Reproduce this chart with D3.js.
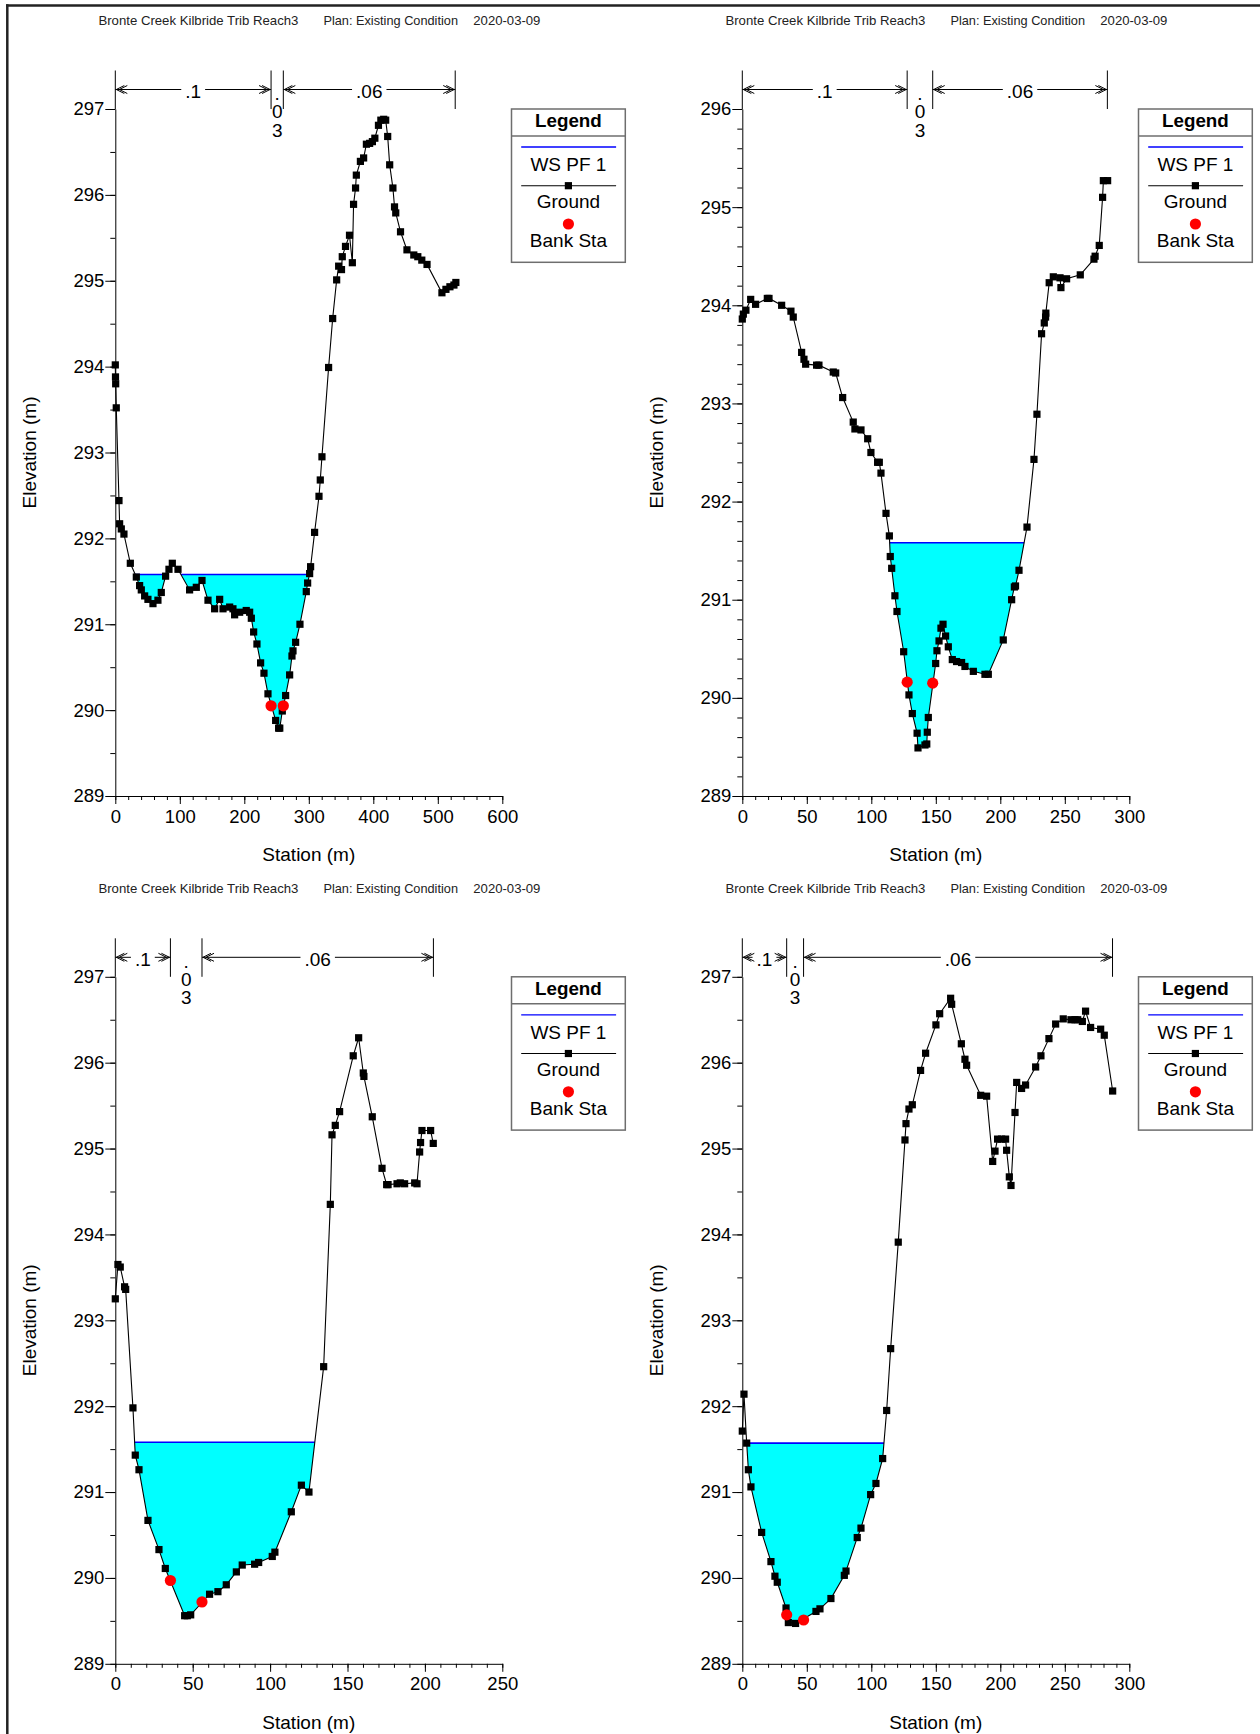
<!DOCTYPE html>
<html><head><meta charset="utf-8">
<script src="https://cdn.jsdelivr.net/npm/d3@7"></script>
<style>html,body{margin:0;padding:0;background:#fff;} svg{display:block;}</style>
</head><body><svg id="chart" width="1260" height="1734"></svg>
<script>
// ---------------- DATA ----------------
const headerTitle = "Bronte Creek Kilbride Trib Reach3";
const headerPlan = "Plan: Existing Condition";
const headerDate = "2020-03-09";
const legendTitle = "Legend";
const legendLabels = ["WS PF 1", "Ground", "Bank Sta"];
const xAxisTitle = "Station (m)";
const yAxisTitle = "Elevation (m)";
const nValues = [".1", ".03", ".06"];
const wsElev = [291.58, 291.58, 291.58, 291.57];

const station1 = [0,0.3,0.6,1.5,5.7,6.7,9.3,13.4,23.3,32.6,37.7,40.3,45.5,50.6,58.4,66.1,71.3,78,83.2,88.4,97.2,115.2,125.6,134.4,143.7,154,161.8,167,177.3,182.4,185,192.8,203,208.3,210.9,214.5,219.6,225.3,230.5,236.7,248.6,253.2,255,258.9,264.1,270.3,273.9,275.5,279.6,286.3,296.1,298.2,301.3,302.8,309,315.8,317.8,320.4,330.7,337,343.2,346.3,350.7,351.9,356.9,363.1,367.5,369.4,372.5,373.7,380,385,389.3,394.3,398.6,402.4,408,411.7,416.1,419.2,422.3,425.4,430.4,432.9,434.8,442.2,452.2,462.8,469,475.2,483.3,506.4,512.6,518.8,525,528];
const elev1 = [294.02,293.88,293.80,293.52,292.44,292.17,292.11,292.05,291.71,291.55,291.45,291.40,291.33,291.29,291.24,291.28,291.37,291.56,291.64,291.71,291.64,291.40,291.43,291.51,291.28,291.18,291.29,291.18,291.20,291.18,291.11,291.14,291.16,291.14,291.07,290.91,290.77,290.55,290.43,290.19,289.88,289.79,289.79,289.99,290.17,290.41,290.63,290.69,290.79,291.00,291.38,291.48,291.59,291.67,292.07,292.49,292.68,292.95,293.99,294.56,295.01,295.17,295.13,295.28,295.40,295.53,295.21,295.89,296.08,296.23,296.39,296.43,296.59,296.60,296.62,296.66,296.81,296.87,296.88,296.87,296.68,296.35,296.08,295.86,295.79,295.57,295.36,295.30,295.28,295.24,295.19,294.86,294.90,294.93,294.95,294.98];
const bankSta1 = [241.5, 260.5];
const bankElev1 = [290.05, 290.05];
const nBreaks1 = [0, 241.5, 260.5, 527];
const xTicks1 = [0, 100, 200, 300, 400, 500, 600];
const yTicks1 = [289, 290, 291, 292, 293, 294, 295, 296, 297];

const station2 = [0,0.8,2.8,6.5,10.3,19.4,20.7,30.5,37.7,39.5,46,47.8,49.1,57.6,59.4,70.5,72.4,77.8,86,87.3,92,97.2,99.7,104.9,106.2,107.5,111.4,114,114.7,115.8,118.3,119.9,125.1,129.2,131.8,135.5,136.2,141.6,143.0,143.4,144.2,149.9,150.9,152.5,154,155.6,157.6,159.7,162.8,166.1,170,172.6,179.1,188.1,190.7,202.3,208.8,210.9,211.8,214.5,220.7,226.1,228.4,232,234.1,235.1,235.3,237.9,241.1,246.3,247,251.4,262,272.6,273.5,276.7,279.3,279.9,283.2];
const elev2 = [293.86,293.91,293.95,294.06,294.01,294.07,294.07,294.00,293.94,293.88,293.52,293.45,293.40,293.39,293.39,293.32,293.31,293.06,292.81,292.74,292.73,292.64,292.50,292.40,292.40,292.29,291.88,291.65,291.44,291.32,291.04,290.88,290.47,290.03,289.84,289.64,289.49,289.52,289.53,289.65,289.80,290.35,290.48,290.58,290.71,290.75,290.63,290.52,290.39,290.37,290.36,290.32,290.27,290.24,290.24,290.59,291.00,291.13,291.14,291.30,291.74,292.43,292.89,293.71,293.82,293.88,293.92,294.23,294.29,294.28,294.18,294.27,294.31,294.47,294.50,294.61,295.10,295.27,295.27];
const bankSta2 = [127.8, 147.6];
const bankElev2 = [290.16, 290.15];
const nBreaks2 = [0, 127.8, 147.6, 283];
const xTicks2 = [0, 50, 100, 150, 200, 250, 300];
const yTicks2 = [289, 290, 291, 292, 293, 294, 295, 296];

const station3 = [0,1.7,3.2,6.0,6.7,11.4,12.9,15.3,21.1,28.2,32.3,44.8,46.5,48.7,60.9,66.3,71.7,78.2,82,90,92.6,101.4,103.1,113.7,120.2,125.1,134.6,138.9,140,142.1,144.9,153.7,157.2,160.2,160.6,166,172.3,175.3,176.2,182,184.1,186.9,193.4,194.9,196.6,197.2,198.1,203.7,205.4];
const elev3 = [293.25,293.65,293.62,293.39,293.36,291.98,291.43,291.26,290.67,290.33,290.11,289.56,289.56,289.57,289.81,289.84,289.92,290.07,290.15,290.16,290.18,290.25,290.30,290.77,291.08,291.00,292.46,294.35,295.16,295.27,295.43,296.08,296.29,295.88,295.84,295.37,294.77,294.58,294.58,294.59,294.60,294.59,294.60,294.59,294.96,295.07,295.21,295.21,295.06];
const bankSta3 = [35.6, 56];
const bankElev3 = [289.97, 289.72];
const nBreaks3 = [0, 35.6, 56, 205.5];
const xTicks3 = [0, 50, 100, 150, 200, 250];
const yTicks3 = [289, 290, 291, 292, 293, 294, 295, 296, 297];

const station4 = [0,1.3,3.4,4.7,6.7,15,22.2,25.3,27.1,33.9,35.7,41.3,57.1,60.2,68.7,79.1,80.4,89.1,92,99.5,103.6,108.8,111.9,115,120.9,126.1,126.9,129.2,131.8,138.2,142.1,150.1,153,161.5,162.3,169.8,172.6,173.9,184.8,189.4,194.1,195.9,197.9,201,204.1,204.9,207,208.3,211.4,212.7,216.5,219.6,227.4,231.5,237.7,242.9,248.8,254.8,257.9,260,263.6,266.1,270,277.8,280.6,287.1];
const elev4 = [291.71,292.14,291.57,291.26,291.06,290.53,290.19,290.02,289.95,289.65,289.48,289.47,289.61,289.64,289.76,290.03,290.08,290.47,290.58,290.97,291.10,291.39,291.95,292.67,293.91,295.10,295.29,295.46,295.51,295.91,296.11,296.44,296.57,296.75,296.68,296.22,296.04,295.97,295.62,295.61,294.85,294.97,295.11,295.11,295.11,294.98,294.67,294.57,295.42,295.77,295.70,295.74,295.95,296.08,296.28,296.45,296.51,296.50,296.50,296.50,296.48,296.60,296.41,296.39,296.32,295.67];
const bankSta4 = [34.4, 47.5];
const bankElev4 = [289.57, 289.51];
const nBreaks4 = [0, 34.4, 47.5, 287];
const xTicks4 = [0, 50, 100, 150, 200, 250, 300];
const yTicks4 = [289, 290, 291, 292, 293, 294, 295, 296, 297];

// ---------------- LAYOUT ----------------
const panels = [
  {col:0, row:0, st:station1, el:elev1, ws:wsElev[0], bs:bankSta1, be:bankElev1, nb:nBreaks1, xt:xTicks1, yt:yTicks1, xMinor:20, yMinor:0.5},
  {col:1, row:0, st:station2, el:elev2, ws:wsElev[1], bs:bankSta2, be:bankElev2, nb:nBreaks2, xt:xTicks2, yt:yTicks2, xMinor:10, yMinor:0.2},
  {col:0, row:1, st:station3, el:elev3, ws:wsElev[2], bs:bankSta3, be:bankElev3, nb:nBreaks3, xt:xTicks3, yt:yTicks3, xMinor:10, yMinor:0.5},
  {col:1, row:1, st:station4, el:elev4, ws:wsElev[3], bs:bankSta4, be:bankElev4, nb:nBreaks4, xt:xTicks4, yt:yTicks4, xMinor:10, yMinor:0.5}
];
const FONT = "'Liberation Sans', Arial, Helvetica, sans-serif";
const colLeft = [115.3, 742.3], plotW = 387;
const rowTop = [109, 976.8], plotH = 687;

const svg = d3.select("#chart");
svg.append("rect").attr("width",1260).attr("height",1734).attr("fill","#fff");
// outer frame (top + left)
svg.append("line").attr("x1",6).attr("x2",1260).attr("y1",5.5).attr("y2",5.5).attr("stroke","#222").attr("stroke-width",2.5);
svg.append("line").attr("x1",7.3).attr("x2",7.3).attr("y1",4.3).attr("y2",1734).attr("stroke","#222").attr("stroke-width",2.5);

panels.forEach(drawPanel);

function drawPanel(p) {
  const L = colLeft[p.col], T = rowTop[p.row], B = T + plotH;
  const x = d3.scaleLinear().domain([p.xt[0], p.xt[p.xt.length-1]]).range([L, L + plotW]);
  const y = d3.scaleLinear().domain([p.yt[0], p.yt[p.yt.length-1]]).range([B, T]);
  const g = svg.append("g");

  // header
  const hy = T - 83.7;
  [[headerTitle, L - 16.9, 200], [headerPlan, L + 208.1, 134.6], [headerDate, L + 358, 67.1]].forEach(h => {
    g.append("text").attr("x", h[1]).attr("y", hy).attr("font-family", FONT).attr("font-size", 13.5)
      .attr("fill", "#222").attr("textLength", h[2]).attr("lengthAdjust", "spacingAndGlyphs").text(h[0]);
  });

  // water surface fill
  const pts = [];
  for (let i = 0; i < p.st.length; i++) {
    pts.push({s: p.st[i], e: p.el[i]});
    if (i < p.st.length - 1) {
      const a = p.el[i] - p.ws, b = p.el[i+1] - p.ws;
      if (a * b < 0) {
        const t = (p.ws - p.el[i]) / (p.el[i+1] - p.el[i]);
        pts.push({s: p.st[i] + t * (p.st[i+1] - p.st[i]), e: p.ws});
      }
    }
  }
  const wet = d => d.e <= p.ws + 1e-9;
  g.append("path").datum(pts)
    .attr("d", d3.area().defined(wet).x(d => x(d.s)).y0(y(p.ws)).y1(d => y(d.e)))
    .attr("fill", "#00ffff");
  g.append("path").datum(pts)
    .attr("d", d3.line().defined(wet).x(d => x(d.s)).y(() => y(p.ws)))
    .attr("fill", "none").attr("stroke", "#0000ff").attr("stroke-width", 1.6);

  // ground
  const ground = p.st.map((s, i) => ({s, e: p.el[i]}));
  g.append("path").datum(ground)
    .attr("d", d3.line().x(d => x(d.s)).y(d => y(d.e)))
    .attr("fill", "none").attr("stroke", "#000").attr("stroke-width", 1.1);
  g.selectAll(null).data(ground).enter().append("rect")
    .attr("x", d => x(d.s) - 3.6).attr("y", d => y(d.e) - 3.6)
    .attr("width", 7.2).attr("height", 7.2).attr("fill", "#000");

  // bank stations
  g.selectAll(null).data(p.bs.map((s, i) => ({s, e: p.be[i]}))).enter().append("circle")
    .attr("cx", d => x(d.s)).attr("cy", d => y(d.e)).attr("r", 5.6).attr("fill", "#ff0000");

  // axes
  const yMinorVals = d3.range(p.yt[0], p.yt[p.yt.length-1] + 1e-6, p.yMinor).map(v => +v.toFixed(3));
  const xMinorVals = d3.range(p.xt[0], p.xt[p.xt.length-1] + 1e-6, p.xMinor);
  const gyMin = g.append("g").attr("transform", `translate(${L},0)`)
    .call(d3.axisLeft(y).tickValues(yMinorVals).tickSize(5).tickSizeOuter(0).tickFormat(""));
  gyMin.select(".domain").remove();
  const gxMin = g.append("g").attr("transform", `translate(0,${B})`)
    .call(d3.axisBottom(x).tickValues(xMinorVals).tickSize(4).tickSizeOuter(0).tickFormat(""));
  gxMin.select(".domain").remove();
  const gy = g.append("g").attr("transform", `translate(${L},0)`)
    .call(d3.axisLeft(y).tickValues(p.yt).tickSize(10).tickSizeOuter(0).tickPadding(1).tickFormat(d3.format("d")));
  const gx = g.append("g").attr("transform", `translate(0,${B})`)
    .call(d3.axisBottom(x).tickValues(p.xt).tickSize(8).tickSizeOuter(0).tickPadding(5.5).tickFormat(d3.format("d")));
  [gy, gx].forEach(a => a.attr("font-size", 18.5).attr("font-family", FONT));
  [gy, gx, gyMin, gxMin].forEach(a => a.selectAll("line,path").attr("stroke", "#000").attr("stroke-width", 1));

  // axis titles
  g.append("text").attr("x", L + plotW / 2).attr("y", B + 65).attr("text-anchor", "middle")
    .attr("font-family", FONT).attr("font-size", 19).text(xAxisTitle);
  const ax = L - 79.5, ay = T + plotH / 2;
  g.append("text").attr("transform", `translate(${ax},${ay}) rotate(-90)`).attr("text-anchor", "middle")
    .attr("font-family", FONT).attr("font-size", 19).text(yAxisTitle);

  // Manning's n brackets
  const ya = T - 19.5;
  p.nb.forEach(b => {
    g.append("line").attr("x1", x(b)).attr("x2", x(b)).attr("y1", T - 38.5).attr("y2", T)
      .attr("stroke", "#000").attr("stroke-width", 1);
  });
  for (let i = 0; i < p.nb.length - 1; i++) {
    const x0 = x(p.nb[i]), x1 = x(p.nb[i+1]), mid = (x0 + x1) / 2;
    const lab = nValues[i];
    const t = g.append("text").attr("x", mid).attr("y", T - 11).attr("text-anchor", "middle")
      .attr("font-family", FONT).attr("font-size", 19).text(lab);
    const tw = t.node().getComputedTextLength();
    if (tw + 26 <= x1 - x0) {
      const gap = 4;
      const lx0 = mid - tw / 2 - gap, lx1 = mid + tw / 2 + gap;
      let d = "";
      if (lx0 > x0 + 1) d += `M${x0},${ya}L${lx0},${ya}`;
      if (x1 > lx1 + 1) d += `M${lx1},${ya}L${x1},${ya}`;
      // arrowheads (double chevrons)
      d += `M${x0+9},${ya-4}L${x0+1},${ya}L${x0+9},${ya+4}M${x0+12},${ya-4}L${x0+4},${ya}L${x0+12},${ya+4}`;
      d += `M${x1-9},${ya-4}L${x1-1},${ya}L${x1-9},${ya+4}M${x1-12},${ya-4}L${x1-4},${ya}L${x1-12},${ya+4}`;
      g.append("path").attr("d", d).attr("fill", "none").attr("stroke", "#000").attr("stroke-width", 1);
    } else {
      // too narrow: stack the characters vertically (one upright vertical text)
      t.attr("y", T - 26).attr("text-anchor", "start").attr("letter-spacing", -2.7)
        .style("writing-mode", "vertical-rl").style("text-orientation", "upright");
    }
  }

  // legend
  const lx = L + 396.2, ly = T, lw = 113.8, lh = 153.3, cx = lx + lw / 2;
  g.append("rect").attr("x", lx).attr("y", ly).attr("width", lw).attr("height", lh)
    .attr("fill", "#fff").attr("stroke", "#6e6e6e").attr("stroke-width", 1.5);
  g.append("line").attr("x1", lx).attr("x2", lx + lw).attr("y1", ly + 27).attr("y2", ly + 27)
    .attr("stroke", "#6e6e6e").attr("stroke-width", 1.5);
  g.append("text").attr("x", cx).attr("y", ly + 18.3).attr("text-anchor", "middle")
    .attr("font-family", FONT).attr("font-size", 18.8).attr("font-weight", "bold").text(legendTitle);
  g.append("line").attr("x1", lx + 9.7).attr("x2", lx + 104.6).attr("y1", ly + 38).attr("y2", ly + 38)
    .attr("stroke", "#0000ff").attr("stroke-width", 1.3);
  g.append("line").attr("x1", lx + 9.7).attr("x2", lx + 104.6).attr("y1", ly + 76.7).attr("y2", ly + 76.7)
    .attr("stroke", "#000").attr("stroke-width", 1.1);
  g.append("rect").attr("x", cx - 3.6).attr("y", ly + 76.7 - 3.6).attr("width", 7.2).attr("height", 7.2).attr("fill", "#000");
  g.append("circle").attr("cx", cx).attr("cy", ly + 115).attr("r", 5.6).attr("fill", "#ff0000");
  [[legendLabels[0], 62], [legendLabels[1], 99.3], [legendLabels[2], 137.7]].forEach(d => {
    g.append("text").attr("x", cx).attr("y", ly + d[1]).attr("text-anchor", "middle")
      .attr("font-family", FONT).attr("font-size", 19).text(d[0]);
  });
}
</script>
</body></html>
